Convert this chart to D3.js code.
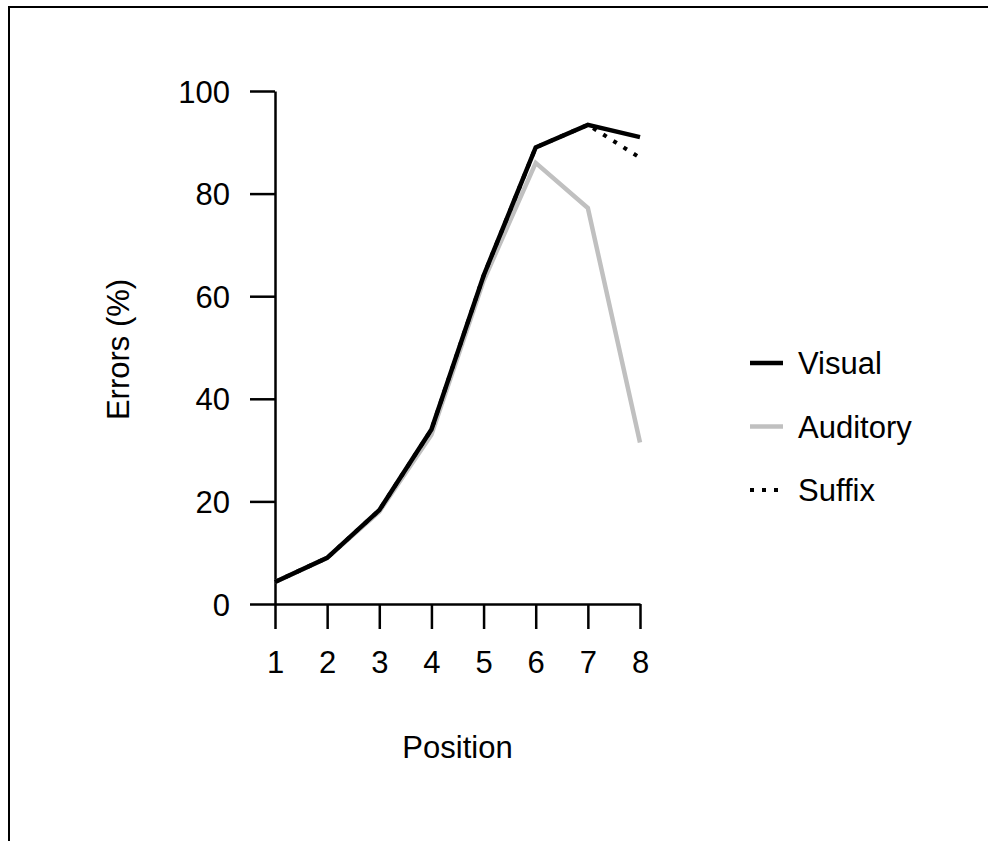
<!DOCTYPE html>
<html>
<head>
<meta charset="utf-8">
<script src="https://cdn.jsdelivr.net/npm/d3@7"></script>
<style>
  body { margin: 0; background: #fff; overflow: hidden; }
  svg { display: block; }
  svg text { font-family: "Liberation Sans", Arial, sans-serif; fill: #000; }
</style>
</head>
<body>
<div id="chart"></div>
<script>
// serial position data (errors %)
const positions = [1, 2, 3, 4, 5, 6, 7, 8];
const visual   = [4.3, 9, 18.3, 34, 64, 89, 93.4, 91];
const auditory = [4.3, 9, 18, 33, 63, 86, 77.2, 31.5];
const suffix   = [4.3, 9, 18.3, 34, 64, 89, 93.4, 87];
const yTicks = [0, 20, 40, 60, 80, 100];

const seriesNames = ["Visual", "Auditory", "Suffix"];
const seriesColors = { Visual: "#000", Auditory: "#c0c0c0", Suffix: "#000" };

const width = 988, height = 841;
const fontSize = 31;

const svg = d3.select("#chart")
    .append("svg")
    .attr("width", width)
    .attr("height", height);

// frame (only top and left edges show)
svg.append("rect")
    .attr("x", 9).attr("y", 7)
    .attr("width", width * 2).attr("height", height * 2)
    .attr("fill", "none")
    .attr("stroke", "#000")
    .attr("stroke-width", 2);

const x = d3.scaleLinear().domain([1, 8]).range([275, 640]);
const y = d3.scaleLinear().domain([0, 100]).range([604, 91]);

// y axis
const yAxis = svg.append("g")
    .attr("transform", `translate(${x(1)},0)`)
    .call(d3.axisLeft(y).tickValues(yTicks).tickSize(25).tickSizeOuter(0).tickPadding(20));

// x axis
const xAxis = svg.append("g")
    .attr("transform", `translate(0,${y(0)})`)
    .call(d3.axisBottom(x).tickValues(positions).tickFormat(d3.format("d"))
        .tickSize(25).tickSizeOuter(0).tickPadding(22));

[yAxis, xAxis].forEach(g => {
    g.select(".domain").attr("stroke-width", 2.5);
    g.selectAll(".tick line").attr("stroke-width", 2.5);
    g.selectAll(".tick text")
        .style("font-size", fontSize + "px")
        .style("font-family", "'Liberation Sans', Arial, sans-serif");
});
yAxis.selectAll(".tick text").attr("dy", "0.36em");

// axis titles
svg.append("text")
    .attr("text-anchor", "middle")
    .attr("x", x(4.5))
    .attr("y", 758)
    .style("font-size", fontSize + "px")
    .text("Position");

svg.append("text")
    .attr("text-anchor", "middle")
    .attr("transform", `translate(129,${y(50) + 2}) rotate(-90)`)
    .style("font-size", fontSize + "px")
    .text("Errors (%)");

const line = d3.line()
    .x((d, i) => x(positions[i]))
    .y(d => y(d));

// auditory underneath, then suffix, visual on top
svg.append("path")
    .datum(auditory)
    .attr("d", line)
    .attr("fill", "none")
    .attr("stroke", seriesColors.Auditory)
    .attr("stroke-width", 4.5);

svg.append("path")
    .datum(suffix)
    .attr("d", line)
    .attr("fill", "none")
    .attr("stroke", seriesColors.Suffix)
    .attr("stroke-width", 4)
    .attr("stroke-dasharray", "4,8");

svg.append("path")
    .datum(visual)
    .attr("d", line)
    .attr("fill", "none")
    .attr("stroke", seriesColors.Visual)
    .attr("stroke-width", 4.5);

// legend
const legend = svg.append("g").attr("transform", "translate(750,363)");
seriesNames.forEach((name, i) => {
    const g = legend.append("g").attr("transform", `translate(0,${i * 63.5})`);
    g.append("line")
        .attr("x1", 0).attr("x2", 33)
        .attr("y1", 0).attr("y2", 0)
        .attr("stroke", seriesColors[name])
        .attr("stroke-width", name === "Suffix" ? 4 : 4.5)
        .attr("stroke-dasharray", name === "Suffix" ? "4,8" : null);
    g.append("text")
        .attr("x", 48)
        .attr("y", 0)
        .attr("dy", "0.36em")
        .style("font-size", fontSize + "px")
        .text(name);
});
</script>
</body>
</html>
